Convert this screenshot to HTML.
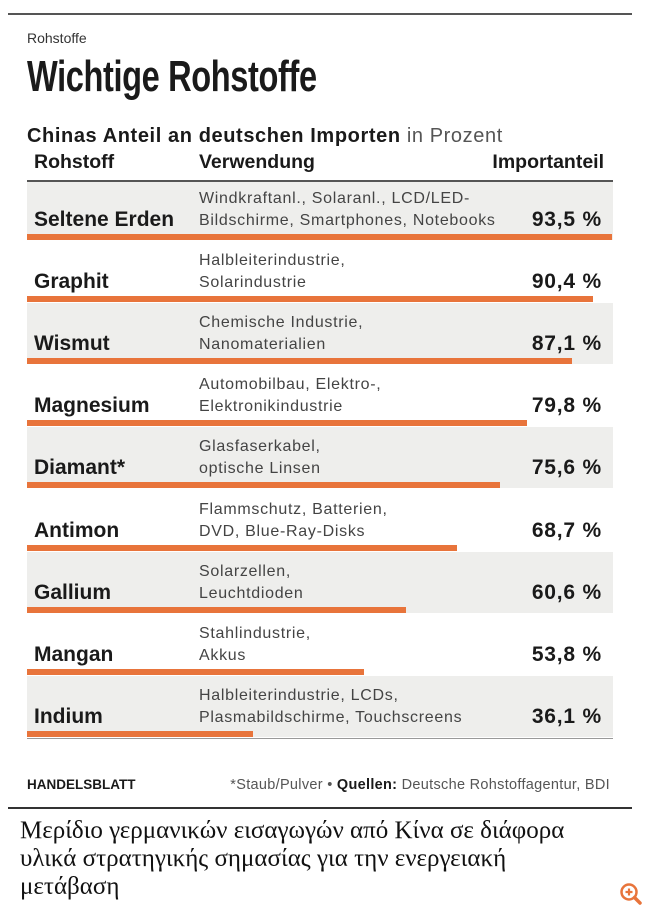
<!DOCTYPE html>
<html><head><meta charset="utf-8"><style>
body{margin:0;width:650px;height:914px;background:#fff;position:relative;overflow:hidden;font-family:"Liberation Sans",sans-serif;color:#1a1a1a}
.a{position:absolute;white-space:nowrap}
.row{position:absolute;left:27px;width:586px;height:62px;background:#eeeeec}
.bar{position:absolute;left:27px;height:6px;background:#e8743b}
.nm{position:absolute;left:34px;font-weight:bold;font-size:21px;color:#1a1a1a}
.ds{position:absolute;left:199px;font-size:16px;letter-spacing:0.7px;color:#444;line-height:22px}
.vl{position:absolute;right:48px;font-weight:bold;font-size:21px;letter-spacing:0.8px}
</style></head><body>
<div class="a" style="left:8px;top:13px;width:624px;height:2px;background:#555"></div>
<div class="a" style="left:27px;top:30px;font-size:14px;color:#333">Rohstoffe</div>
<div class="a" style="left:27px;top:52px;font-size:44px;font-weight:bold;transform:scaleX(0.74);transform-origin:0 0;color:#1a1a1a;letter-spacing:-0.5px">Wichtige Rohstoffe</div>
<div class="a" style="left:27px;top:125px;font-size:20px;letter-spacing:0.6px"><b>Chinas Anteil an deutschen Importen</b> <span style="color:#555">in Prozent</span></div>
<div class="a" style="left:34px;top:151px;font-size:19.5px;font-weight:bold">Rohstoff</div>
<div class="a" style="left:199px;top:151px;font-size:19.5px;font-weight:bold">Verwendung</div>
<div class="a" style="right:46px;top:151px;font-size:19.5px;font-weight:bold">Importanteil</div>
<div class="a" style="left:27px;top:180px;width:586px;height:2px;background:#555"></div>
<div id="rows"></div>
<div class="a" style="left:27px;top:738px;width:586px;height:1px;background:#999"></div>
<div class="a" style="left:27px;top:777px;font-size:13.5px;font-weight:bold">HANDELSBLATT</div>
<div class="a" style="right:40px;top:777px;font-size:14.5px;letter-spacing:0.3px;color:#555">*Staub/Pulver • <b style="color:#1a1a1a">Quellen:</b> Deutsche Rohstoffagentur, BDI</div>
<div class="a" style="left:8px;top:807px;width:624px;height:2px;background:#333"></div>
<div class="a" style="left:20px;top:817px;font-family:'Liberation Serif',serif;font-size:25px;line-height:28px;color:#111">Μερίδιο γερμανικών εισαγωγών από Κίνα σε διάφορα<br>υλικά στρατηγικής σημασίας για την ενεργειακή<br>μετάβαση</div>
<svg class="a" style="left:619px;top:882px" width="24" height="24" viewBox="0 0 24 24"><circle cx="10" cy="10" r="7.5" fill="none" stroke="#e8743b" stroke-width="2.5"/><path d="M15.5 15.5 L21 21" stroke="#e8743b" stroke-width="3.5" stroke-linecap="round"/><path d="M10 6.5v7M6.5 10h7" stroke="#e8743b" stroke-width="2.2"/></svg>
<script>
var d=[["Seltene Erden","Windkraftanl., Solaranl., LCD/LED-","Bildschirme, Smartphones, Notebooks",93.5,"93,5 %"],
["Graphit","Halbleiterindustrie,","Solarindustrie",90.4,"90,4 %"],
["Wismut","Chemische Industrie,","Nanomaterialien",87.1,"87,1 %"],
["Magnesium","Automobilbau, Elektro-,","Elektronikindustrie",79.8,"79,8 %"],
["Diamant*","Glasfaserkabel,","optische Linsen",75.6,"75,6 %"],
["Antimon","Flammschutz, Batterien,","DVD, Blue-Ray-Disks",68.7,"68,7 %"],
["Gallium","Solarzellen,","Leuchtdioden",60.6,"60,6 %"],
["Mangan","Stahlindustrie,","Akkus",53.8,"53,8 %"],
["Indium","Halbleiterindustrie, LCDs,","Plasmabildschirme, Touchscreens",36.1,"36,1 %"]];
var h="";
d.forEach(function(r,i){var bt=Math.round(234+62.1*i);
if(i%2==0){var top=i==0?182:bt-55;h+='<div class="row" style="top:'+top+'px;height:'+(bt+6-top)+'px"></div>';}
h+='<div class="bar" style="top:'+bt+'px;width:'+(r[3]*6.26).toFixed(1)+'px"></div>';
h+='<div class="nm" style="top:'+(bt-26)+'px">'+r[0]+'</div>';
h+='<div class="ds" style="top:'+(bt-46)+'px">'+r[1]+'<br>'+r[2]+'</div>';
h+='<div class="vl" style="top:'+(bt-26)+'px">'+r[4]+'</div>';});
document.getElementById("rows").innerHTML=h;
</script>
</body></html>
